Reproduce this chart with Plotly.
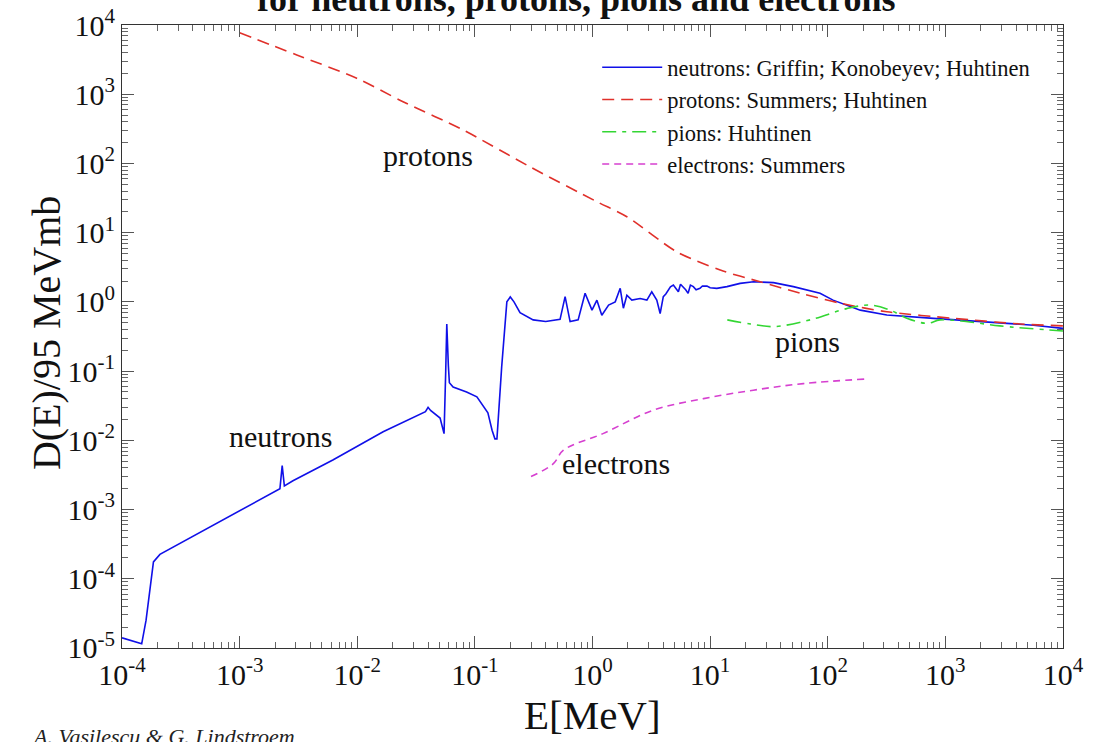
import plotly.graph_objects as go

# ---------------- data ----------------
neutron_E = [1.0e-4, 1.47e-4, 1.6e-4, 1.85e-4, 2.1e-4, 2.2e-3, 2.3e-3, 2.4e-3, 2.84e-3, 6.2e-3,
             0.0166, 0.038, 0.040, 0.042, 0.0506, 0.0547, 0.0565, 0.0577, 0.0595, 0.0607,
             0.0653, 0.085, 0.104, 0.129, 0.140, 0.148, 0.154, 0.169, 0.187, 0.20,
             0.215, 0.242, 0.313, 0.40, 0.53, 0.585, 0.645, 0.755, 0.865, 0.99,
             1.09, 1.2, 1.37, 1.56, 1.72, 1.83, 1.96, 2.16, 2.54, 2.9,
             3.19, 3.52, 3.76, 4.0, 4.2, 4.4, 4.6, 4.87, 5.1, 5.37,
             5.6, 5.9, 6.2, 6.5, 6.8, 7.2, 7.6, 8.2, 8.6, 9.4,
             10.0, 11.4, 13.9, 18, 23.4, 34.6, 51, 86, 111, 189,
             318, 794, 2110, 5620, 10000]
neutron_D = [1.4e-5, 1.15e-5, 2.5e-5, 1.75e-4, 2.25e-4, 2.0e-3, 4.3e-3, 2.2e-3, 2.6e-3, 5.2e-3,
             0.0133, 0.026, 0.030, 0.027, 0.021, 0.0125, 0.1, 0.48, 0.12, 0.068,
             0.059, 0.050, 0.0425, 0.025, 0.014, 0.0105, 0.0105, 0.115, 1.0, 1.18,
             1.0, 0.70, 0.55, 0.52, 0.56, 1.19, 0.52, 0.55, 1.33, 0.76,
             1.06, 0.64, 0.9, 1.0, 1.57, 0.81, 1.25, 1.06, 1.12, 1.06,
             1.4, 1.06, 0.68, 1.19, 1.3, 1.48, 1.65, 1.75, 1.55, 1.4,
             1.8, 1.66, 1.5, 1.33, 1.75, 1.66, 1.5, 1.57, 1.7, 1.69,
             1.6, 1.57, 1.66, 1.85, 1.95, 1.9, 1.66, 1.33, 1.06, 0.76,
             0.645, 0.577, 0.515, 0.46, 0.414]

proton_E = [1e-3, 3.06e-3, 9.9e-3, 0.0245, 0.0796, 0.294, 1.09, 1.96, 5.2, 12.2,
            26.6, 58, 127, 318, 1160, 4320, 10000]
proton_D = [7700, 3700, 1700, 780, 304, 89.5, 28, 17, 5.3, 2.88,
            1.95, 1.34, 0.96, 0.72, 0.58, 0.48, 0.45]

pion_E = [14, 22, 35, 71, 145, 230, 340, 470, 700, 900, 1500, 2900, 10000]
pion_D = [0.55, 0.48, 0.44, 0.55, 0.8, 0.9, 0.76, 0.58, 0.49, 0.55, 0.52, 0.45, 0.38]

electron_E = [0.3, 0.465, 0.566, 1.24, 3.3, 8.8, 23.3, 62, 215]
electron_D = [3.0e-3, 4.6e-3, 7.2e-3, 0.0126, 0.0273, 0.040, 0.053, 0.066, 0.077]

x_decades = [-4, -3, -2, -1, 0, 1, 2, 3, 4]
y_decades = [-5, -4, -3, -2, -1, 0, 1, 2, 3, 4]

legend_names = ["neutrons: Griffin; Konobeyev; Huhtinen",
                "protons: Summers; Huhtinen",
                "pions: Huhtinen",
                "electrons: Summers"]
curve_labels = ["neutrons", "protons", "pions", "electrons"]
title_text = "for neutrons, protons, pions and electrons"
credit_text = "A. Vasilescu &amp; G. Lindstroem"

SERIF = "Liberation Serif, Times New Roman, serif"

fig = go.Figure()
fig.add_trace(go.Scatter(x=neutron_E, y=neutron_D, mode="lines", name=legend_names[0],
                         line=dict(color="#1010e8", width=1.6)))
fig.add_trace(go.Scatter(x=proton_E, y=proton_D, mode="lines", name=legend_names[1],
                         line=dict(color="#e0302a", width=1.6, dash="12px,7px", shape="spline", smoothing=0.8)))
fig.add_trace(go.Scatter(x=pion_E, y=pion_D, mode="lines", name=legend_names[2],
                         line=dict(color="#33d633", width=1.6, dash="14px,6px,4px,6px", shape="spline")))
fig.add_trace(go.Scatter(x=electron_E, y=electron_D, mode="lines", name=legend_names[3],
                         line=dict(color="#d640d0", width=1.6, dash="7px,5px", shape="spline")))

def sup_labels(decs):
    return ["10<sup>%d</sup>" % d for d in decs]

def minor_vals(decs):
    out = []
    for d in decs[:-1]:
        for k in range(2, 10):
            out.append(k * 10.0 ** d)
    return out

EPS = 0.0002
axis_common = dict(
    type="log", showgrid=False, zeroline=False, automargin=False,
    showline=True, linecolor="#333", linewidth=1, mirror="allticks",
    ticks="inside", ticklen=12, tickcolor="#555", tickwidth=1,
    tickfont=dict(family=SERIF, size=30, color="#111"),
)

fig.update_xaxes(**axis_common, range=[-4 - EPS, 4 + EPS],
                 tickmode="array", tickvals=[10.0 ** d for d in x_decades], ticktext=sup_labels(x_decades),
                 minor=dict(tickmode="array", tickvals=minor_vals(x_decades), ticks="inside",
                            ticklen=6, tickcolor="#666", tickwidth=1))
fig.update_yaxes(**axis_common, range=[-5 - EPS, 4 + EPS],
                 tickmode="array", tickvals=[10.0 ** d for d in y_decades], ticktext=sup_labels(y_decades),
                 minor=dict(tickmode="array", tickvals=minor_vals(y_decades), ticks="inside",
                            ticklen=6, tickcolor="#666", tickwidth=1))

label_pos = [(-2.65, -1.95), (-1.4, 2.12), (1.83, -0.57), (0.2, -2.33)]
for name, (lx, ly) in zip(curve_labels, label_pos):
    fig.add_annotation(xref="x", yref="y", x=lx, y=ly, text=name, showarrow=False,
                       font=dict(family=SERIF, size=30, color="#111"))

# axis titles, chart title, credit
fig.add_annotation(xref="paper", yref="paper", x=0.5, y=-0.108, text="E[MeV]", showarrow=False,
                   font=dict(family=SERIF, size=41, color="#111"), yanchor="middle")
fig.add_annotation(xref="paper", yref="paper", x=-0.08, y=0.505, text="D(E)/95 MeVmb", showarrow=False,
                   textangle=-90, font=dict(family=SERIF, size=40, color="#111"), xanchor="center")
fig.add_annotation(xref="paper", yref="paper", x=0.482, y=1.041, text="<b>" + title_text + "</b>",
                   showarrow=False, font=dict(family=SERIF, size=36, color="#111"), yanchor="middle")
fig.add_annotation(xref="paper", yref="paper", x=-0.098, y=-0.118, text="<i>" + credit_text + "</i>",
                   showarrow=False, font=dict(family=SERIF, size=22, color="#222"), xanchor="left", yanchor="top")

fig.update_layout(
    width=1095, height=742,
    margin=dict(l=122, r=32, t=25, b=94, autoexpand=False),
    paper_bgcolor="white", plot_bgcolor="white",
    showlegend=True,
    legend=dict(x=0.505, y=0.966, xanchor="left", yanchor="top", bgcolor="rgba(0,0,0,0)",
                font=dict(family=SERIF, size=22.5, color="#111"), itemwidth=60, tracegroupgap=0),
)

# remove the default page margin so the figure fills the window exactly
fig.write_html("out.html", config={"displayModeBar": False},
               post_script="document.body.style.margin='0px';document.body.style.overflow='hidden';")
